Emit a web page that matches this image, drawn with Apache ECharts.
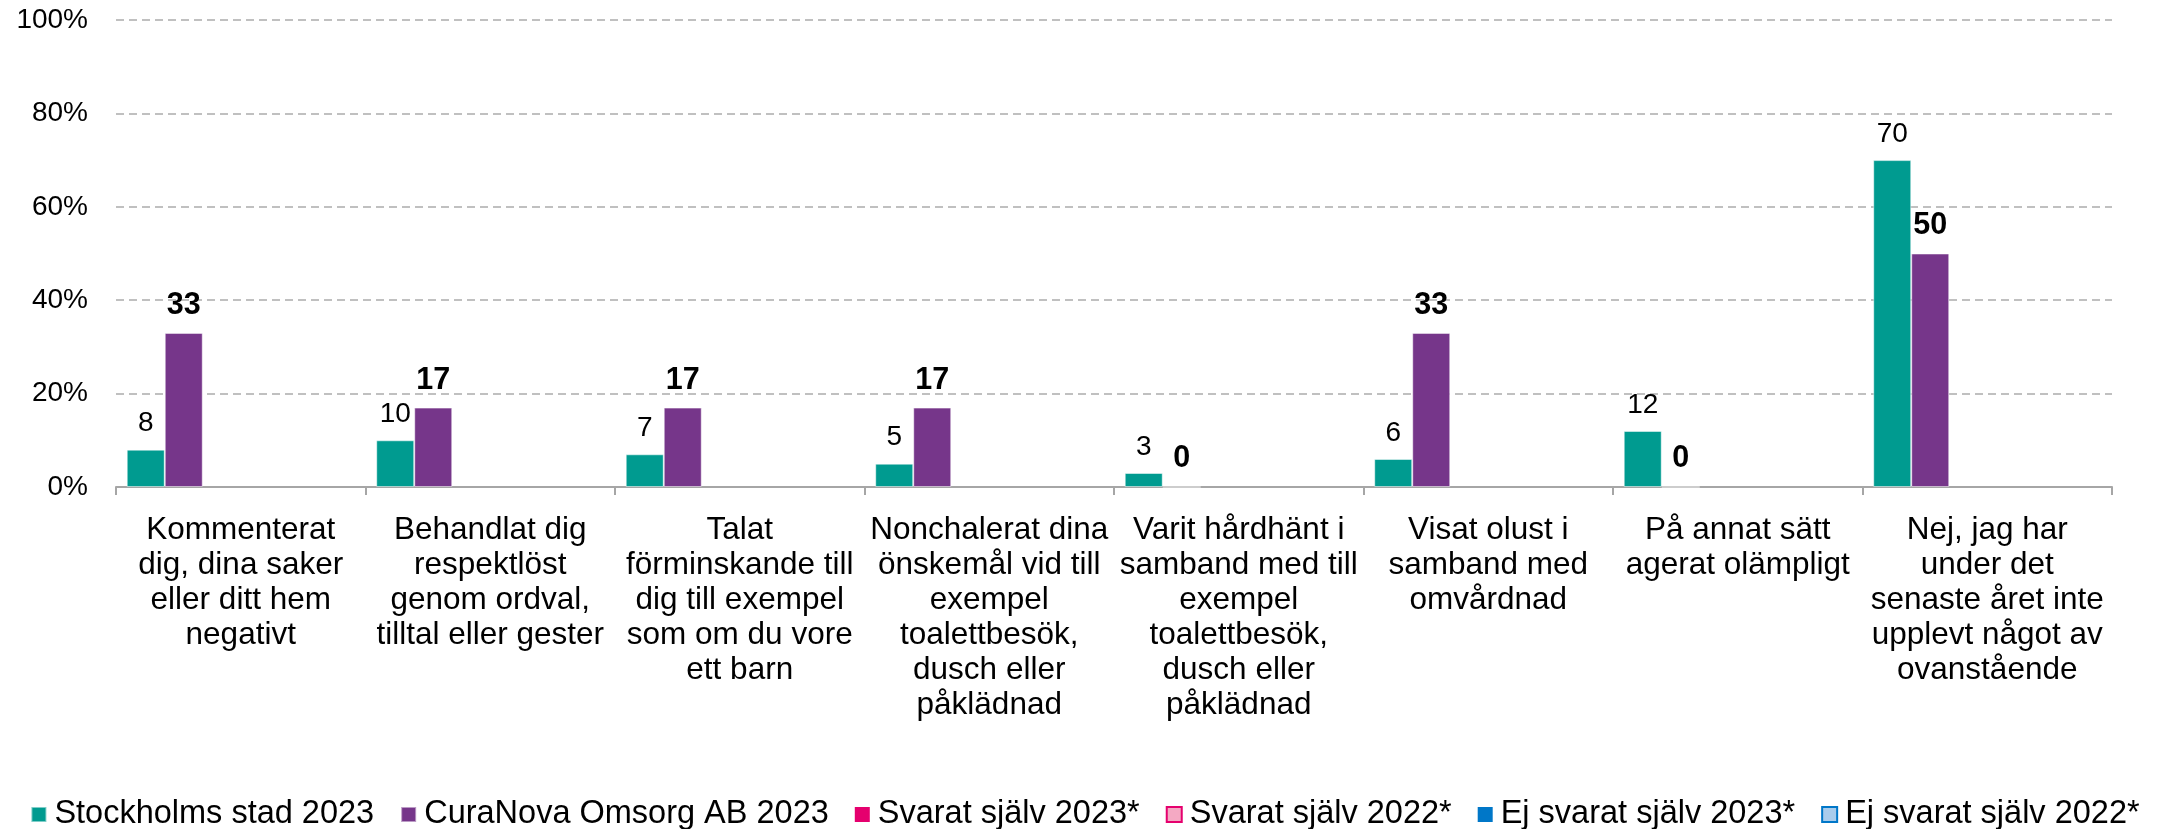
<!DOCTYPE html>
<html>
<head>
<meta charset="utf-8">
<script src="https://cdn.jsdelivr.net/npm/echarts@6/dist/echarts.min.js"></script>
<style>
  html, body { margin: 0; padding: 0; background: #fff; }
  #chart { width: 2170px; height: 829px; }
</style>
</head>
<body>
<div id="chart"></div>
<script>
// Survey answers: share of respondents (%) per type of treatment
const categories = [
  'Kommenterat\ndig, dina saker\neller ditt hem\nnegativt',
  'Behandlat dig\nrespektlöst\ngenom ordval,\ntilltal eller gester',
  'Talat\nförminskande till\ndig till exempel\nsom om du vore\nett barn',
  'Nonchalerat dina\nönskemål vid till\nexempel\ntoalettbesök,\ndusch eller\npåklädnad',
  'Varit hårdhänt i\nsamband med till\nexempel\ntoalettbesök,\ndusch eller\npåklädnad',
  'Visat olust i\nsamband med\nomvårdnad',
  'På annat sätt\nagerat olämpligt',
  'Nej, jag har\nunder det\nsenaste året inte\nupplevt något av\novanstående'
];
const stockholm2023 = [8, 10, 7, 5, 3, 6, 12, 70];
const curaNova2023 = [33, 17, 17, 17, 0, 33, 0, 50];
const svaratSjalv2023 = ['-', '-', '-', '-', '-', '-', '-', '-'];
const svaratSjalv2022 = ['-', '-', '-', '-', '-', '-', '-', '-'];
const ejSvaratSjalv2023 = ['-', '-', '-', '-', '-', '-', '-', '-'];
const ejSvaratSjalv2022 = ['-', '-', '-', '-', '-', '-', '-', '-'];
const yTicks = [0, 20, 40, 60, 80, 100];

const FONT = "'Liberation Sans', Arial, sans-serif";

const chart = echarts.init(document.getElementById('chart'), null, { renderer: 'canvas' });

function emptySeries(name, data, fill, border) {
  return {
    name: name,
    type: 'bar',
    data: data,
    itemStyle: { color: fill, borderColor: border, borderWidth: border ? 2 : 0 }
  };
}

chart.setOption({
  animation: false,
  textStyle: { fontFamily: FONT },
  grid: { left: 116, right: 58, top: 20, bottom: 342, containLabel: false },
  legend: {
    left: 'center',
    top: 793,
    itemWidth: 15,
    itemHeight: 15,
    itemGap: 26,
    icon: 'rect',
    textStyle: { fontFamily: FONT, fontSize: 32.5, color: '#000', padding: [0, 0, 0, 3] },
    data: [
      'Stockholms stad 2023', 'CuraNova Omsorg AB 2023', 'Svarat själv 2023*',
      'Svarat själv 2022*', 'Ej svarat själv 2023*', 'Ej svarat själv 2022*'
    ]
  },
  xAxis: {
    type: 'category',
    data: categories,
    axisLine: { lineStyle: { color: '#a6a6a6', width: 2 } },
    axisTick: { show: true, length: 8, lineStyle: { color: '#a6a6a6', width: 2 } },
    axisLabel: {
      interval: 0,
      margin: 26,
      fontFamily: FONT,
      fontSize: 31.5,
      lineHeight: 35,
      color: '#000',
      align: 'center'
    }
  },
  yAxis: {
    type: 'value',
    min: 0,
    max: 100,
    interval: 20,
    axisLine: { show: false },
    axisTick: { show: false },
    axisLabel: {
      margin: 28,
      fontFamily: FONT,
      fontSize: 28,
      color: '#000',
      formatter: function (v) { return yTicks.indexOf(v) >= 0 ? v + '%' : ''; }
    },
    splitLine: { lineStyle: { color: '#c0c0c0', width: 2, type: [8, 5] } }
  },
  series: [
    {
      name: 'Stockholms stad 2023',
      type: 'bar',
      data: stockholm2023,
      barGap: '0%',
      barCategoryGap: '8.6%',
      itemStyle: { color: '#009B90', borderColor: 'rgba(255,255,255,0.5)', borderWidth: 1 },
      label: {
        show: true, position: 'top', distance: 12,
        fontFamily: FONT, fontSize: 28, color: '#000'
      }
    },
    {
      name: 'CuraNova Omsorg AB 2023',
      type: 'bar',
      data: curaNova2023,
      itemStyle: { color: '#76368A', borderColor: 'rgba(255,255,255,0.5)', borderWidth: 1 },
      label: {
        show: true, position: 'top', distance: 12,
        fontFamily: FONT, fontSize: 30.5, fontWeight: 'bold', color: '#000'
      }
    },
    emptySeries('Svarat själv 2023*', svaratSjalv2023, '#E5006E'),
    emptySeries('Svarat själv 2022*', svaratSjalv2022, '#F4A9C3', '#E5006E'),
    emptySeries('Ej svarat själv 2023*', ejSvaratSjalv2023, '#0077C8'),
    emptySeries('Ej svarat själv 2022*', ejSvaratSjalv2022, '#A9CCEC', '#0077C8')
  ]
});
</script>
</body>
</html>
